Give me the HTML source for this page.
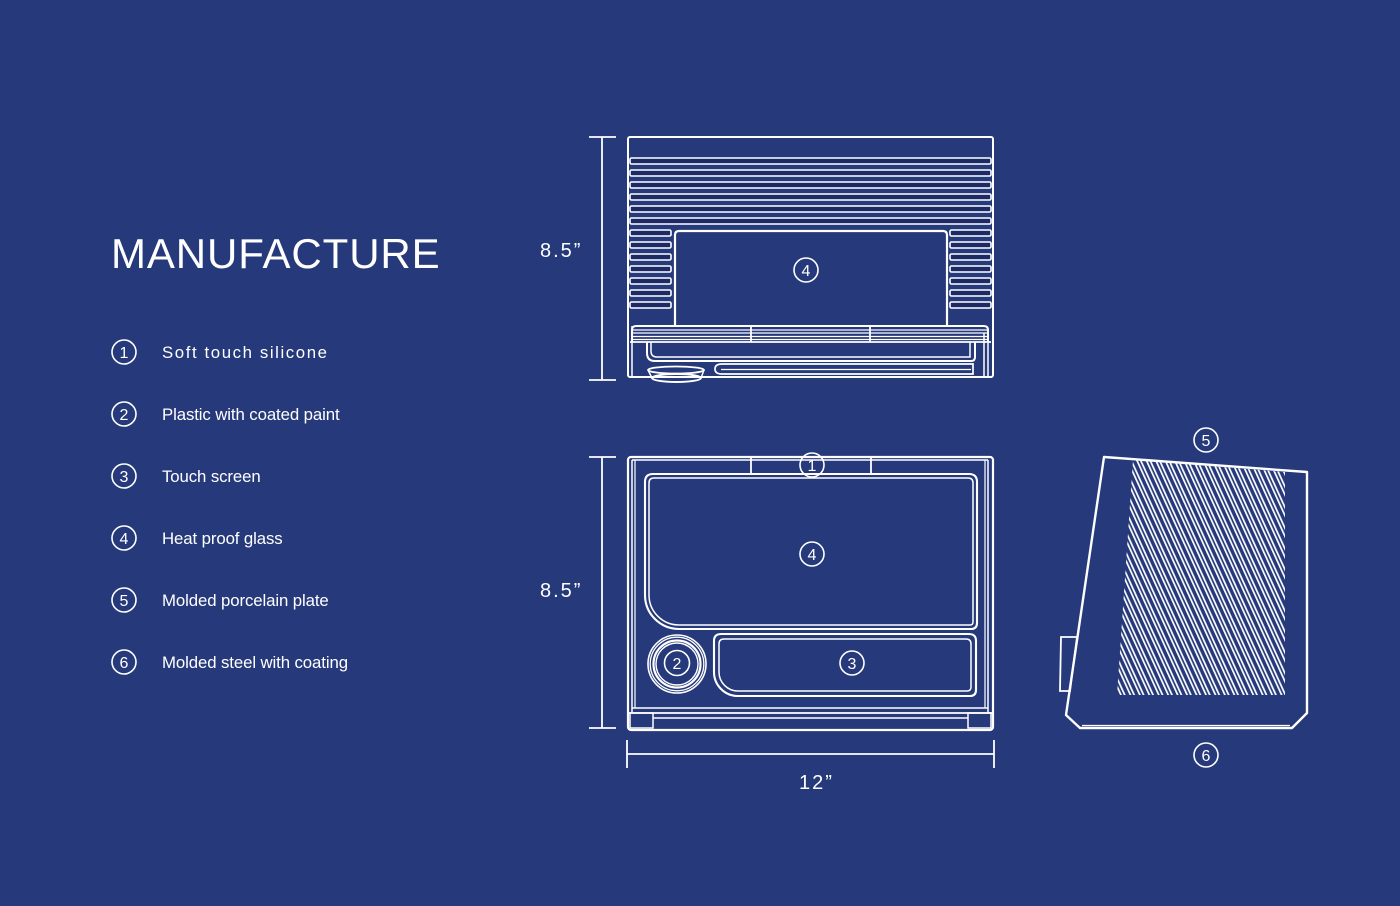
<!DOCTYPE html>
<html>
<head>
<meta charset="utf-8">
<style>
html,body{margin:0;padding:0;background:#26397a;}
svg{display:block;}
text{font-family:"Liberation Sans",Arial,sans-serif;fill:#fff;}
</style>
</head>
<body>
<svg width="1400" height="906" viewBox="0 0 1400 906" xmlns="http://www.w3.org/2000/svg">
<defs>
  <pattern id="hatch" width="8.6" height="40" patternUnits="userSpaceOnUse" patternTransform="rotate(-24.5)">
    <rect x="0" y="0" width="1.7" height="40" fill="#fff"/>
    <rect x="3.4" y="0" width="1.7" height="40" fill="#fff"/>
  </pattern>
  <clipPath id="hclip">
    <polygon points="1133,460 1285,472 1285,695 1117,695"/>
  </clipPath>
</defs>
<rect width="1400" height="906" fill="#26397a"/>

<!-- LEGEND -->
<text x="111" y="268" font-size="42" letter-spacing="0.9">MANUFACTURE</text>
<g fill="none" stroke="#fff" stroke-width="1.6">
  <circle cx="124" cy="352" r="12"/>
  <circle cx="124" cy="414" r="12"/>
  <circle cx="124" cy="476" r="12"/>
  <circle cx="124" cy="538" r="12"/>
  <circle cx="124" cy="600" r="12"/>
  <circle cx="124" cy="662" r="12"/>
</g>
<g font-size="16" text-anchor="middle">
  <text x="124" y="358">1</text>
  <text x="124" y="420">2</text>
  <text x="124" y="482">3</text>
  <text x="124" y="544">4</text>
  <text x="124" y="606">5</text>
  <text x="124" y="668">6</text>
</g>
<g font-size="16.8">
  <text x="162" y="358" letter-spacing="1.6">Soft touch silicone</text>
  <text x="162" y="420" letter-spacing="-0.1">Plastic with coated paint</text>
  <text x="162" y="482" letter-spacing="-0.1">Touch screen</text>
  <text x="162" y="544" letter-spacing="-0.1">Heat proof glass</text>
  <text x="162" y="606" letter-spacing="-0.1">Molded porcelain plate</text>
  <text x="162" y="668" letter-spacing="-0.1">Molded steel with coating</text>
</g>

<!-- DIMENSIONS -->
<g stroke="#fff" stroke-width="1.8" fill="none">
  <line x1="602" y1="137" x2="602" y2="380"/>
  <line x1="589" y1="137" x2="616" y2="137"/>
  <line x1="589" y1="380" x2="616" y2="380"/>
  <line x1="602" y1="457" x2="602" y2="728"/>
  <line x1="589" y1="457" x2="616" y2="457"/>
  <line x1="589" y1="728" x2="616" y2="728"/>
  <line x1="627" y1="754" x2="994" y2="754"/>
  <line x1="627" y1="740" x2="627" y2="768"/>
  <line x1="994" y1="740" x2="994" y2="768"/>
</g>
<g font-size="20" letter-spacing="2">
  <text x="540" y="257">8.5”</text>
  <text x="540" y="597">8.5”</text>
  <text x="799" y="789">12”</text>
</g>

<!-- TOP VIEW -->
<g stroke="#fff" stroke-width="2" fill="none">
  <rect x="628" y="137" width="365" height="240" rx="2"/>
  <g fill="#1c2a66" stroke-width="1.6">
    <rect x="630" y="158" width="361" height="6" rx="1.5"/>
    <rect x="630" y="170" width="361" height="6" rx="1.5"/>
    <rect x="630" y="182" width="361" height="6" rx="1.5"/>
    <rect x="630" y="194" width="361" height="6" rx="1.5"/>
    <rect x="630" y="206" width="361" height="6" rx="1.5"/>
    <rect x="630" y="218" width="361" height="6" rx="1.5"/>
    <rect x="630" y="230" width="41" height="6" rx="1.5"/>
    <rect x="630" y="242" width="41" height="6" rx="1.5"/>
    <rect x="630" y="254" width="41" height="6" rx="1.5"/>
    <rect x="630" y="266" width="41" height="6" rx="1.5"/>
    <rect x="630" y="278" width="41" height="6" rx="1.5"/>
    <rect x="630" y="290" width="41" height="6" rx="1.5"/>
    <rect x="630" y="302" width="41" height="6" rx="1.5"/>
    <rect x="950" y="230" width="41" height="6" rx="1.5"/>
    <rect x="950" y="242" width="41" height="6" rx="1.5"/>
    <rect x="950" y="254" width="41" height="6" rx="1.5"/>
    <rect x="950" y="266" width="41" height="6" rx="1.5"/>
    <rect x="950" y="278" width="41" height="6" rx="1.5"/>
    <rect x="950" y="290" width="41" height="6" rx="1.5"/>
    <rect x="950" y="302" width="41" height="6" rx="1.5"/>
  </g>
  <path d="M675,326 V235 Q675,231 679,231 H943 Q947,231 947,235 V326" stroke-width="2.2"/>
  <circle cx="806" cy="270" r="12" stroke-width="1.6"/>
  <path d="M632,342 V330 Q632,326 636,326 H984 Q988,326 988,330 V342" stroke-width="2"/>
  <line x1="632" y1="330" x2="988" y2="330" stroke-width="1.3"/>
  <line x1="632" y1="333" x2="988" y2="333" stroke-width="1.3"/>
  <line x1="632" y1="336.5" x2="988" y2="336.5" stroke-width="1.3"/>
  <line x1="632" y1="339.5" x2="988" y2="339.5" stroke-width="1.3"/>
  <line x1="630" y1="342" x2="991" y2="342" stroke-width="1.8"/>
  <line x1="751" y1="326" x2="751" y2="342" stroke-width="1.8"/>
  <line x1="870" y1="326" x2="870" y2="342" stroke-width="1.8"/>
  <line x1="632" y1="326" x2="632" y2="377" stroke-width="1.5"/>
  <line x1="984" y1="333" x2="984" y2="377" stroke-width="1.5"/>
  <line x1="988" y1="333" x2="988" y2="377" stroke-width="1.5"/>
  <path d="M647,342 V353 Q647,361 655,361 H971 Q975,361 975,357 V342" stroke-width="2"/>
  <path d="M651,342 V351 Q651,357 657,357 H970 V342" stroke-width="1.5"/>
  <path d="M722,364 H973 V374 H722 Q715,374 715,369 Q715,364 722,364 Z" stroke-width="1.7"/>
  <line x1="721" y1="369.5" x2="971" y2="369.5" stroke-width="1.2"/>
  <line x1="968" y1="377" x2="992" y2="377" stroke-width="1.5"/>
  <ellipse cx="676" cy="370" rx="28" ry="3.5" stroke-width="1.8"/>
  <path d="M648,370 L652,378 M704,370 L701,378" stroke-width="1.5"/>
  <ellipse cx="676.5" cy="378" rx="24.5" ry="4" stroke-width="1.9"/>
</g>
<text x="806" y="276" font-size="16" text-anchor="middle">4</text>

<!-- FRONT VIEW -->
<g stroke="#fff" stroke-width="2" fill="none">
  <rect x="628" y="457" width="365" height="273" rx="3" stroke-width="2.2"/>
  <line x1="632" y1="460" x2="988" y2="460" stroke-width="1.5"/>
  <line x1="632" y1="460" x2="632" y2="713" stroke-width="1.5"/>
  <line x1="635" y1="460" x2="635" y2="708" stroke-width="1.2"/>
  <line x1="988" y1="460" x2="988" y2="713" stroke-width="1.5"/>
  <line x1="985" y1="460" x2="985" y2="708" stroke-width="1.2"/>
  <line x1="751" y1="457" x2="751" y2="474" stroke-width="1.8"/>
  <line x1="871" y1="457" x2="871" y2="474" stroke-width="1.8"/>
  <path d="M653,474 H969 Q977,474 977,482 V623 Q977,629 971,629 H679 A34,34 0 0 1 645,595 V482 Q645,474 653,474 Z" stroke-width="2.1"/>
  <path d="M654,478 H968 Q973,478 973,483 V622 Q973,625 970,625 H679 A30,30 0 0 1 649,595 V483 Q649,478 654,478 Z" stroke-width="1.5"/>
  <circle cx="812" cy="465" r="12" stroke-width="1.6"/>
  <circle cx="812" cy="554" r="12" stroke-width="1.6"/>
  <circle cx="677" cy="664" r="29" stroke-width="1.6"/>
  <circle cx="677" cy="664" r="26.8" stroke-width="1.3"/>
  <circle cx="677" cy="664" r="23.5" stroke-width="2.2"/>
  <circle cx="677" cy="664" r="21" stroke-width="1.4"/>
  <circle cx="677" cy="663" r="12.5" stroke-width="1.6"/>
  <path d="M721,634 H969 Q976,634 976,641 V690 Q976,696 970,696 H738 A24,24 0 0 1 714,672 V641 Q714,634 721,634 Z" stroke-width="2.1"/>
  <path d="M724,639 H966 Q971,639 971,644 V687 Q971,691 967,691 H738 A19,19 0 0 1 719,672 V644 Q719,639 724,639 Z" stroke-width="1.5"/>
  <circle cx="852" cy="663" r="12" stroke-width="1.6"/>
  <line x1="632" y1="708" x2="988" y2="708" stroke-width="1.5"/>
  <line x1="628" y1="713" x2="993" y2="713" stroke-width="1.8"/>
  <rect x="630" y="713" width="23" height="15" stroke-width="1.5"/>
  <rect x="968" y="713" width="23" height="15" stroke-width="1.5"/>
  <line x1="653" y1="718" x2="968" y2="718" stroke-width="1.5"/>
</g>
<g font-size="16" text-anchor="middle">
  <text x="812" y="471">1</text>
  <text x="812" y="560">4</text>
  <text x="677" y="669">2</text>
  <text x="852" y="669">3</text>
</g>

<!-- SIDE VIEW -->
<g stroke="#fff" fill="none">
  <polygon points="1104,457 1307,472 1307,713 1292,728 1080,728 1066,715" stroke-width="2.4" stroke-linejoin="round"/>
  <line x1="1082" y1="725.5" x2="1290" y2="725.5" stroke-width="1.3"/>
  <polygon points="1077,637 1061,637 1060,691 1070,691" stroke-width="1.8"/>
  <circle cx="1206" cy="440" r="12" stroke-width="1.6"/>
  <circle cx="1206" cy="755" r="12" stroke-width="1.6"/>
</g>
<rect x="1110" y="455" width="180" height="245" fill="url(#hatch)" clip-path="url(#hclip)"/>
<g font-size="16" text-anchor="middle">
  <text x="1206" y="446">5</text>
  <text x="1206" y="761">6</text>
</g>
</svg>
</body>
</html>
